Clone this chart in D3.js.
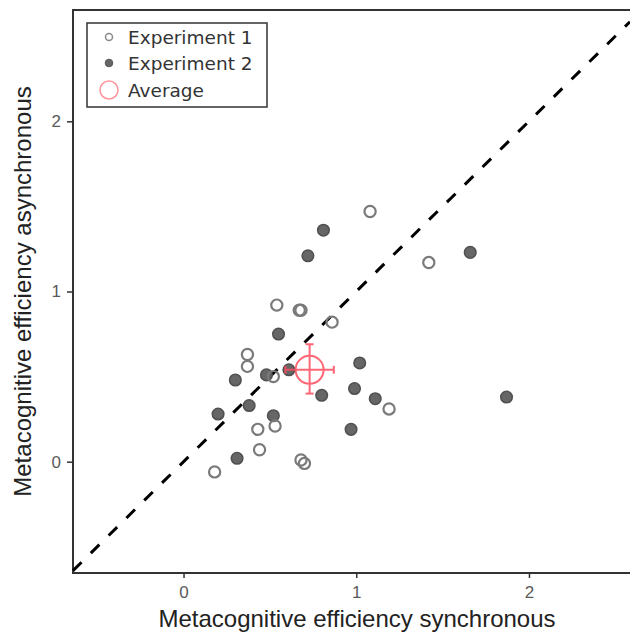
<!DOCTYPE html>
<meta charset="utf-8">
<script src="https://d3js.org/d3.v7.min.js"></script>
<style>
  body { margin: 0; background: #fff; }
</style>
<div id="my_dataviz"></div>

<script>
// Experiment 1 (open circles)
var exp1_sync  = [0.54, 0.67, 0.68, 0.86, 0.37, 0.37, 0.52, 1.19, 0.53, 0.43, 0.44, 0.18, 0.68, 0.70, 1.08, 1.42];
var exp1_async = [0.92, 0.89, 0.89, 0.82, 0.63, 0.56, 0.50, 0.31, 0.21, 0.19, 0.07, -0.06, 0.01, -0.01, 1.47, 1.17];

// Experiment 2 (filled circles)
var exp2_sync  = [0.81, 0.72, 0.55, 1.02, 0.30, 0.48, 0.61, 0.80, 0.99, 1.11, 0.38, 0.20, 0.52, 0.97, 0.31, 1.66, 1.87];
var exp2_async = [1.36, 1.21, 0.75, 0.58, 0.48, 0.51, 0.54, 0.39, 0.43, 0.37, 0.33, 0.28, 0.27, 0.19, 0.02, 1.23, 0.38];

// average with error bars
var avg = {x: 0.73, y: 0.54, xlo: 0.59, xhi: 0.87, ylo: 0.40, yhi: 0.69};

var xTicks = [0, 1, 2];
var yTicks = [0, 1, 2];
var legendLabels = ["Experiment 1", "Experiment 2", "Average"];

var width = 630, height = 633;
var pLeft = 73, pRight = 630, pTop = 10, pBottom = 573;

var svg = d3.select("#my_dataviz")
  .append("svg")
    .attr("width", width)
    .attr("height", height);

var x = d3.scaleLinear()
  .domain([-0.64, 2.585])
  .range([pLeft, pRight]);

var y = d3.scaleLinear()
  .domain([-0.654, 2.654])
  .range([pBottom, pTop]);

// axes
svg.append("g")
  .attr("transform", "translate(0," + pBottom + ")")
  .call(d3.axisBottom(x).tickValues(xTicks).tickSize(5).tickFormat(d3.format("d")))
  .call(function(g) {
    g.select(".domain").remove();
    g.selectAll("line").attr("stroke", "#333").attr("stroke-width", 1.5);
    g.selectAll("text")
      .attr("y", 13)
      .attr("fill", "#5a5a5a")
      .style("font-family", "Liberation Sans, Arial, sans-serif")
      .style("font-size", "17px");
  });

svg.append("g")
  .attr("transform", "translate(" + pLeft + ",0)")
  .call(d3.axisLeft(y).tickValues(yTicks).tickSize(6).tickFormat(d3.format("d")))
  .call(function(g) {
    g.select(".domain").remove();
    g.selectAll("line").attr("stroke", "#333").attr("stroke-width", 1.5);
    g.selectAll("text")
      .attr("x", -12)
      .attr("fill", "#5a5a5a")
      .style("font-family", "Liberation Sans, Arial, sans-serif")
      .style("font-size", "17px");
  });

// panel border (left, bottom, top)
svg.append("path")
  .attr("d", "M" + pRight + "," + pTop + "H" + pLeft + "V" + pBottom + "H" + pRight)
  .attr("fill", "none")
  .attr("stroke", "#333")
  .attr("stroke-width", 2);

// identity line
var lo = Math.max(x.domain()[0], y.domain()[0]);
var hi = Math.min(x.domain()[1], y.domain()[1]);
svg.append("line")
  .attr("x1", x(lo)).attr("y1", y(lo))
  .attr("x2", x(hi)).attr("y2", y(hi))
  .attr("stroke", "#000")
  .attr("stroke-width", 3)
  .attr("stroke-dasharray", "12,13");

// points
svg.selectAll("circle.exp2")
  .data(d3.zip(exp2_sync, exp2_async))
  .enter()
  .append("circle")
    .attr("class", "exp2")
    .attr("cx", function(d) { return x(d[0]); })
    .attr("cy", function(d) { return y(d[1]); })
    .attr("r", 5.8)
    .attr("fill", "#666")
    .attr("stroke", "#505050")
    .attr("stroke-width", 1.5);

svg.selectAll("circle.exp1")
  .data(d3.zip(exp1_sync, exp1_async))
  .enter()
  .append("circle")
    .attr("class", "exp1")
    .attr("cx", function(d) { return x(d[0]); })
    .attr("cy", function(d) { return y(d[1]); })
    .attr("r", 5.6)
    .attr("fill", "none")
    .attr("stroke", "#7a7a7a")
    .attr("stroke-width", 2.2);

// average + error bars
var red = "#ff4d5e";
var cap = 4;
var avgG = svg.append("g")
  .attr("stroke", red)
  .attr("stroke-width", 2)
  .attr("fill", "none")
  .attr("opacity", 0.85);
avgG.append("line")
  .attr("x1", x(avg.xlo)).attr("x2", x(avg.xhi))
  .attr("y1", y(avg.y)).attr("y2", y(avg.y));
avgG.append("line")
  .attr("x1", x(avg.x)).attr("x2", x(avg.x))
  .attr("y1", y(avg.ylo)).attr("y2", y(avg.yhi));
[avg.xlo, avg.xhi].forEach(function(v) {
  avgG.append("line")
    .attr("x1", x(v)).attr("x2", x(v))
    .attr("y1", y(avg.y) - cap).attr("y2", y(avg.y) + cap);
});
[avg.ylo, avg.yhi].forEach(function(v) {
  avgG.append("line")
    .attr("x1", x(avg.x) - cap).attr("x2", x(avg.x) + cap)
    .attr("y1", y(v)).attr("y2", y(v));
});
avgG.append("circle")
  .attr("cx", x(avg.x))
  .attr("cy", y(avg.y))
  .attr("r", 14);

// axis titles
svg.append("text")
  .attr("x", 357)
  .attr("y", 627)
  .attr("text-anchor", "middle")
  .style("font-family", "Liberation Sans, Arial, sans-serif")
  .style("font-size", "24px")
  .attr("fill", "#222")
  .text("Metacognitive efficiency synchronous");

svg.append("text")
  .attr("transform", "translate(31," + ((pTop + pBottom) / 2) + ") rotate(-90)")
  .attr("text-anchor", "middle")
  .style("font-family", "Liberation Sans, Arial, sans-serif")
  .style("font-size", "24px")
  .attr("fill", "#222")
  .text("Metacognitive efficiency asynchronous");

// legend
var legend = svg.append("g");
legend.append("rect")
  .attr("x", 87).attr("y", 23)
  .attr("width", 180).attr("height", 84)
  .attr("fill", "#fff")
  .attr("stroke", "#333")
  .attr("stroke-width", 1.5);

var rowY = [37, 63, 90];
legend.append("circle")
  .attr("cx", 109).attr("cy", rowY[0]).attr("r", 3.5)
  .attr("fill", "none").attr("stroke", "#8a8a8a").attr("stroke-width", 1.5);
legend.append("circle")
  .attr("cx", 109).attr("cy", rowY[1]).attr("r", 3.8)
  .attr("fill", "#666").attr("stroke", "#555").attr("stroke-width", 1);
legend.append("circle")
  .attr("cx", 109).attr("cy", rowY[2]).attr("r", 9)
  .attr("fill", "none").attr("stroke", red).attr("stroke-width", 1.5).attr("opacity", 0.6);

legend.selectAll("text.lbl")
  .data(legendLabels)
  .enter()
  .append("text")
    .attr("class", "lbl")
    .attr("x", 128)
    .attr("y", function(d, i) { return rowY[i]; })
    .attr("dy", "0.36em")
    .style("font-family", "DejaVu Sans, sans-serif")
    .style("font-size", "18.5px")
    .attr("fill", "#333")
    .text(function(d) { return d; });
</script>
